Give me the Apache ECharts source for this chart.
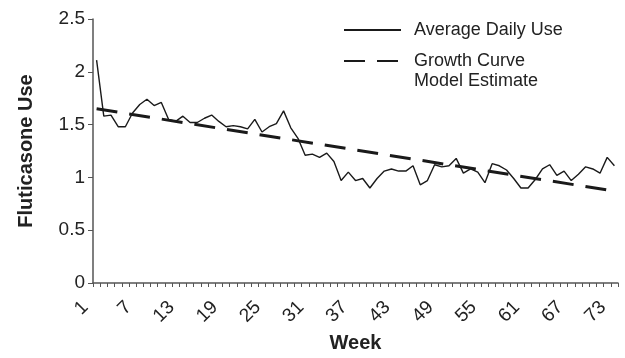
<!DOCTYPE html>
<html>
<head>
<meta charset="utf-8">
<script src="https://cdn.jsdelivr.net/npm/echarts@6/dist/echarts.min.js"></script>
<style>html,body{margin:0;padding:0;background:#fff}#c{width:625px;height:358px}</style>
</head>
<body>
<div id="c"></div>
<script>
const weeks = Array.from({length: 73}, (_, i) => String(i + 1));
const averageDailyUse = [
  2.11, 1.58, 1.59, 1.48, 1.48, 1.61, 1.69, 1.74, 1.68, 1.71,
  1.55, 1.53, 1.58, 1.52, 1.52, 1.56, 1.59, 1.53, 1.48, 1.49,
  1.48, 1.46, 1.55, 1.43, 1.48, 1.51, 1.63, 1.47, 1.37, 1.21,
  1.22, 1.19, 1.23, 1.15, 0.97, 1.05, 0.97, 0.99, 0.90, 0.99,
  1.06, 1.08, 1.06, 1.06, 1.11, 0.93, 0.97, 1.12, 1.10, 1.11,
  1.18, 1.04, 1.08, 1.05, 0.95, 1.13, 1.11, 1.07, 0.99, 0.90,
  0.90, 0.98, 1.08, 1.12, 1.02, 1.06, 0.97, 1.03, 1.10, 1.08,
  1.04, 1.19, 1.11
];
// growth curve model estimate: value at first and last week (straight line)
const modelWeeks = ['1', '73'];
const modelValues = [1.65, 0.87];
const yTicks = [0, 0.5, 1, 1.5, 2, 2.5];

const modelData = weeks.map(w => {
  const k = modelWeeks.indexOf(w);
  return k >= 0 ? modelValues[k] : null;
});

const font = '"Liberation Sans", Arial, Helvetica, sans-serif';
const chart = echarts.init(document.getElementById('c'), null, {renderer: 'canvas'});
chart.setOption({
  animation: false,
  backgroundColor: '#fff',
  grid: {left: 93, right: 7, top: 19, bottom: 74, containLabel: false},
  legend: [
    {
      data: ['Average Daily Use'],
      left: 338, top: 16, orient: 'vertical',
      itemWidth: 57, itemHeight: 14,
      itemStyle: {opacity: 0},
      textStyle: {fontFamily: font, fontSize: 18, color: '#222', padding: [0, 0, 0, 8]}
    },
    {
      data: ['Growth Curve Model Estimate'],
      left: 338, top: 26, orient: 'vertical',
      itemWidth: 57, itemHeight: 14,
      itemStyle: {opacity: 0},
      formatter: () => ' \nGrowth Curve\nModel Estimate',
      textStyle: {fontFamily: font, fontSize: 18, color: '#222', lineHeight: 20, padding: [0, 0, 0, 8]}
    }
  ],
  xAxis: {
    type: 'category',
    data: weeks,
    boundaryGap: true,
    name: 'Week',
    nameLocation: 'middle',
    nameGap: 47,
    nameTextStyle: {fontFamily: font, fontSize: 20, fontWeight: 'bold', color: '#222'},
    axisLine: {lineStyle: {color: '#555', width: 1.5}},
    axisTick: {show: true, interval: 0, length: 4, lineStyle: {color: '#555'}},
    axisLabel: {interval: 5, rotate: 45, margin: 10, padding: [0, 16, 0, 0],
      fontFamily: font, fontSize: 19, color: '#222'},
    splitLine: {show: false}
  },
  yAxis: {
    type: 'value',
    min: 0, max: 2.5, interval: 0.5,
    name: 'Fluticasone Use',
    nameLocation: 'middle',
    nameGap: 57,
    nameTextStyle: {fontFamily: font, fontSize: 20, fontWeight: 'bold', color: '#222'},
    axisLine: {show: true, lineStyle: {color: '#555', width: 1.5}},
    axisTick: {show: true, length: 5, lineStyle: {color: '#555'}},
    axisLabel: {margin: 8, fontFamily: font, fontSize: 19, color: '#222',
      formatter: v => yTicks.includes(v) ? String(v) : ''},
    splitLine: {show: false}
  },
  series: [
    {
      name: 'Average Daily Use',
      type: 'line',
      data: averageDailyUse,
      symbol: 'none',
      lineStyle: {color: '#1a1a1a', width: 1.4},
      itemStyle: {color: '#1a1a1a'}
    },
    {
      name: 'Growth Curve Model Estimate',
      type: 'line',
      data: modelData,
      connectNulls: true,
      symbol: 'none',
      lineStyle: {color: '#1a1a1a', width: 3, type: [21, 12]},
      itemStyle: {color: '#1a1a1a'}
    }
  ]
});
</script>
</body>
</html>
